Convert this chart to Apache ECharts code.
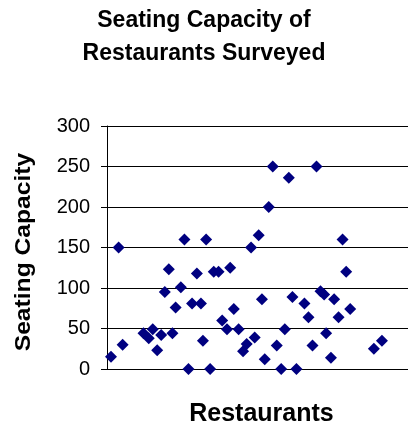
<!DOCTYPE html>
<html>
<head>
<meta charset="utf-8">
<script src="https://cdn.jsdelivr.net/npm/echarts@6/dist/echarts.min.js"></script>
<style>
  html, body { margin: 0; padding: 0; background: #fff; }
  #chart { width: 408px; height: 421px; }
</style>
</head>
<body>
<div id="chart"></div>
<script>
// Restaurant number (position along the horizontal axis) and its seating capacity
const restaurantNo = [1, 2.9, 3.9, 9.1, 10.4, 11.4, 12.5, 13.5, 14.4, 15.4, 16.3, 17.1, 18.4, 19.3, 20.3,
  21.2, 22.4, 23.4, 23.9, 24.7, 25.7, 26.6, 27.8, 28.7, 29.9, 30.7, 31.6, 32.8, 33.9, 34.8,
  35.9, 36.8, 37.8, 38.6, 39.3, 40.3, 41.3, 42.3, 43.4, 44.3, 45.3, 46.2, 47.2, 49.2, 50.2,
  51.2, 52.2, 53.2, 54.1, 54.6, 55.8, 56.6, 57.7, 58.7, 59.6, 60.6, 66.5, 68.5];
const seatingCapacity = [15, 150, 30, 44, 38, 49, 23, 42, 95, 123, 44, 76, 101, 160, 0,
  81, 118, 81, 35, 160, 0, 120, 120, 60, 49, 125, 74, 49, 22, 31,
  150, 39, 165, 86, 12, 200, 250, 29, 0, 49, 236, 89, 0, 81, 64,
  29, 250, 96, 92, 44, 14, 86, 64, 160, 120, 74, 25, 35];
const yTicks = [0, 50, 100, 150, 200, 250, 300];

const chartTitle = 'Seating Capacity of\nRestaurants Surveyed';
const xTitle = 'Restaurants';
const yTitle = 'Seating Capacity';

const points = restaurantNo.map((x, i) => [x, seatingCapacity[i]]);
const font = '"Liberation Sans", Arial, Helvetica, sans-serif';

const chart = echarts.init(document.getElementById('chart'), null, { renderer: 'canvas' });
chart.setOption({
  animation: false,
  backgroundColor: '#fff',
  title: {
    text: chartTitle,
    left: 'center',
    top: 4,
    padding: 0,
    textStyle: { fontFamily: font, fontSize: 23, fontWeight: 'bold', color: '#000', lineHeight: 33 }
  },
  grid: { left: 107, right: 0, top: 126, bottom: 52, containLabel: false, outerBoundsMode: 'none' },
  xAxis: {
    type: 'value',
    min: 0,
    max: 75,
    name: xTitle,
    nameLocation: 'middle',
    nameGap: 33,
    nameTextStyle: { fontFamily: font, fontSize: 25, fontWeight: 'bold', color: '#000', padding: [0, 0, 0, 8] },
    axisLine: { show: true, onZero: false, lineStyle: { color: '#000', width: 1 } },
    axisTick: { show: false },
    axisLabel: { show: false },
    splitLine: { show: false }
  },
  yAxis: {
    type: 'value',
    min: yTicks[0],
    max: yTicks[yTicks.length - 1],
    interval: yTicks[1] - yTicks[0],
    axisLine: { show: true, lineStyle: { color: '#000', width: 1 } },
    axisTick: { show: true, inside: false, length: 6, lineStyle: { color: '#000' } },
    axisLabel: { fontFamily: font, fontSize: 20, color: '#000', margin: 17 },
    splitLine: { show: true, lineStyle: { color: '#000', width: 1 } }
  },
  graphic: [{
    type: 'text',
    x: 24,
    y: 252,
    rotation: Math.PI / 2,
    scaleX: 1.12,
    style: {
      text: yTitle,
      font: 'bold 22px ' + font,
      fill: '#000',
      align: 'center',
      verticalAlign: 'middle'
    }
  }],
  series: [{
    type: 'scatter',
    data: points,
    symbol: 'diamond',
    symbolSize: 12,
    itemStyle: { color: '#000080', opacity: 1 },
    clip: false
  }]
});
</script>
</body>
</html>
